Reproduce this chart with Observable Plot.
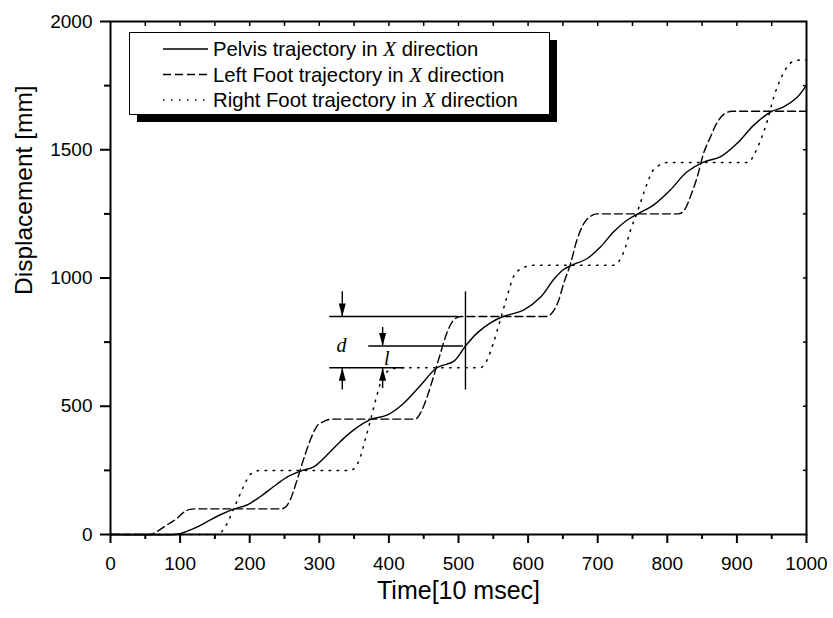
<!DOCTYPE html>
<html><head><meta charset="utf-8">
<script src="https://cdn.jsdelivr.net/npm/d3@7"></script>
<script src="https://cdn.jsdelivr.net/npm/@observablehq/plot@0.6"></script>
<style>
body{margin:0;background:#fff;}
</style>
</head><body><div id="chart"></div>
<script>
// ---- data ----
const pelvis = [[0,0],[92,0],[100,3],[114,17],[127,33],[139,50],[157,76],[177,99],[196,115],[215,147],[234,186],[253,223],[275,249],[292,264],[311,310],[330,362],[349,407],[373,448],[397,465],[421,511],[445,580],[469,650],[493,675],[510,735],[527,786],[546,825],[564,850],[580,862],[594,876],[618,926],[637,995],[651,1033],[663,1050],[685,1076],[704,1121],[723,1180],[742,1225],[759,1252],[780,1284],[804,1342],[828,1413],[852,1452],[876,1472],[900,1524],[924,1595],[948,1647],[967,1667],[987,1706],[1000,1752]];
const leftFoot = [[0,0],[57,0],[66,10],[77,30],[95,62],[106,88],[114,98],[122,100],[244,100],[250,104],[258,134],[268,212],[277,290],[287,368],[296,420],[306,440],[318,450],[438,450],[445,472],[455,537],[464,615],[474,706],[483,784],[493,836],[503,850],[627,850],[637,874],[644,913],[651,978],[661,1056],[670,1147],[680,1212],[690,1241],[699,1250],[816,1250],[826,1271],[833,1316],[843,1394],[852,1485],[862,1550],[872,1608],[881,1638],[893,1650],[1000,1650]];
const rightFoot = [[0,0],[153,0],[160,12],[167,40],[177,100],[191,186],[200,232],[207,244],[215,250],[345,250],[351,260],[358,295],[366,370],[374,450],[382,535],[389,598],[397,634],[405,645],[415,650],[531,650],[541,680],[550,745],[560,836],[570,930],[579,1005],[589,1035],[601,1047],[612,1050],[723,1050],[733,1076],[740,1121],[747,1186],[756,1250],[761,1290],[771,1368],[778,1413],[788,1439],[800,1450],[917,1450],[924,1478],[934,1537],[944,1615],[953,1706],[963,1777],[972,1822],[982,1846],[994,1850],[1000,1850]];

const seriesNames = ["Pelvis trajectory in ", "Left Foot trajectory in ", "Right Foot trajectory in "];

// annotation (d, l) values in data units
const guideH = [{x1:315,x2:500,y:850},{x1:371,x2:507,y:735},{x1:315,x2:423,y:650}];
const guideV = [{x:510,y1:563,y2:946}];
const arrowShafts = [{x:333,from:946,to:850,dir:"down"},{x:333,from:563,to:650,dir:"up"},{x:391,from:807,to:735,dir:"down"},{x:391,from:569,to:650,dir:"up"}];
const annoLabels = [{x:332,y:738,t:"d"},{x:397,y:687,t:"l"}];

// ticks
const xTicks = [0,100,200,300,400,500,600,700,800,900,1000];
const xMinor = [50,150,250,350,450,550,650,750,850,950];
const topTicks = [50,100,150,200,250,300,350,400,450,500,550,600,650,700,750,800,850,900,950];
const yTicks = [0,500,1000,1500,2000];
const yMinor = [250,750,1250,1750];
const rightTicks = [250,500,750,1000,1250,1500,1750];

const toObj = a => a.map(([x,y]) => ({x,y}));
const plain = d3.format("d");

// narrow filled arrowhead, tip at origin pointing down
const headSymbol = {draw(ctx){ ctx.moveTo(0,0); ctx.lineTo(-3.5,-13); ctx.lineTo(3.5,-13); ctx.closePath(); }};

const chart = Plot.plot({
  width: 833, height: 618,
  marginLeft: 110, marginRight: 27, marginTop: 21, marginBottom: 84,
  style: {fontFamily: "'Liberation Sans', Arial, sans-serif", fontSize: "19px", color: "black", background: "white"},
  x: {domain: [0,1000]},
  y: {domain: [0,2000]},
  marks: [
    Plot.axisX(xTicks, {anchor:"bottom", tickSize:9, tickPadding:13, tickFormat:plain, label:null, strokeWidth:2}),
    Plot.axisX(xMinor, {anchor:"bottom", tickSize:5, tickFormat:()=>"", label:null, strokeWidth:2}),
    Plot.axisX(topTicks, {anchor:"top", tickSize:-4, tickFormat:()=>"", label:null, strokeWidth:1.5}),
    Plot.axisY(yTicks, {anchor:"left", tickSize:10, tickPadding:8, tickFormat:plain, label:null, strokeWidth:2}),
    Plot.axisY(yMinor, {anchor:"left", tickSize:6, tickFormat:()=>"", label:null, strokeWidth:2}),
    Plot.axisY(rightTicks, {anchor:"right", tickSize:-4, tickFormat:()=>"", label:null, strokeWidth:1.5}),
    Plot.frame({strokeWidth:2}),
    Plot.line(toObj(leftFoot), {x:"x", y:"y", curve:"monotone-x", stroke:"black", strokeWidth:1.4, strokeDasharray:"8,4"}),
    Plot.line(toObj(rightFoot), {x:"x", y:"y", curve:"monotone-x", stroke:"black", strokeWidth:1.5, strokeDasharray:"1.5,6.5"}),
    Plot.line(toObj(pelvis), {x:"x", y:"y", curve:"catmull-rom", stroke:"black", strokeWidth:1.4}),
    Plot.ruleY(guideH, {y:"y", x1:"x1", x2:"x2", stroke:"black", strokeWidth:1.4}),
    Plot.ruleX(guideV, {x:"x", y1:"y1", y2:"y2", stroke:"black", strokeWidth:1.4}),
    Plot.ruleX(arrowShafts, {x:"x", y1:"from", y2:"to", stroke:"black", strokeWidth:1.4}),
    Plot.dot(arrowShafts, {x:"x", y:"to", symbol:headSymbol, rotate:d => d.dir === "down" ? 0 : 180, fill:"black", stroke:null}),
    Plot.text(annoLabels, {x:"x", y:"y", text:"t", fontFamily:"'Liberation Serif', 'Times New Roman', serif", fontStyle:"italic", fontSize:20}),
    Plot.text(["Time[10 msec]"], {frameAnchor:"bottom", dy:64, fontSize:25}),
    Plot.text(["Displacement [mm]"], {frameAnchor:"left", dx:-86, dy:17, rotate:-90, fontSize:24.5})
  ]
});
document.getElementById("chart").append(chart);

// legend drawn inside the plot frame
const svg = d3.select(chart);
const lg = svg.append("g").attr("text-anchor","start");
lg.append("rect").attr("x",137).attr("y",40).attr("width",420).attr("height",82).attr("fill","black");
lg.append("rect").attr("x",129.5).attr("y",32.5).attr("width",420).attr("height",82).attr("fill","white").attr("stroke","black").attr("stroke-width",1);
const dashes = [null, "8,4", "1.5,6.5"];
seriesNames.forEach((name, i) => {
  const yy = 49 + i*25.5;
  lg.append("line").attr("x1",163).attr("x2",208).attr("y1",yy).attr("y2",yy)
    .attr("stroke","black").attr("stroke-width",1.4).attr("stroke-dasharray",dashes[i]);
  const t = lg.append("text").attr("x",213).attr("y",yy).attr("dy","0.35em").attr("text-anchor","start")
    .attr("font-family","'Liberation Sans', Arial, sans-serif").attr("font-size",20.3).attr("fill","black");
  t.append("tspan").text(name);
  t.append("tspan").attr("font-family","'Liberation Serif', 'Times New Roman', serif").attr("font-style","italic").attr("font-size",21).text("X");
  t.append("tspan").text(" direction");
});
</script>
</body></html>
